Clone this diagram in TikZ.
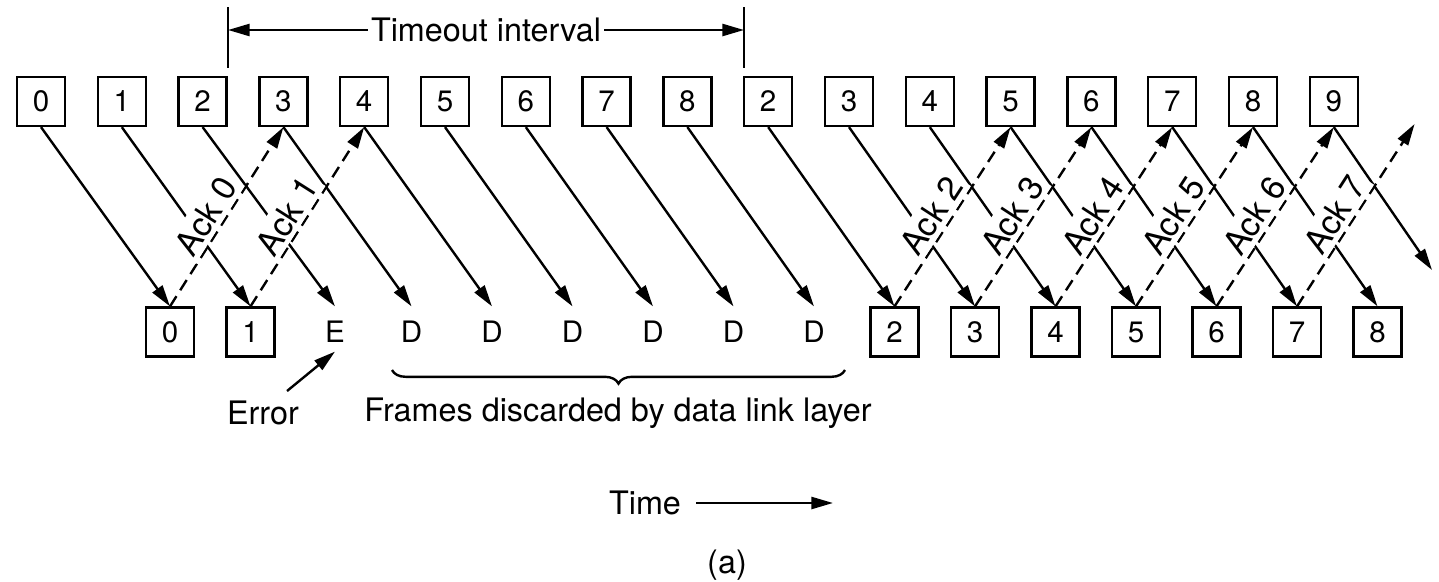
\documentclass[tikz,border=0pt]{standalone}
\usepackage{fontspec}
\setmainfont{TeX Gyre Heros}
\usepackage{tikz}
\usetikzlibrary{arrows.meta, decorations.pathreplacing}

\tikzset{
  seqbox/.style={draw, line width=0.85pt, minimum width=0.6cm, minimum height=0.61cm, inner sep=0pt, font=\fontsize{10.5}{12}\selectfont},
  slot/.style={seqbox, draw=none},
  arr/.style={line width=0.85pt, -{Triangle[length=2.7mm, width=1.5mm]}},
  ack/.style={arr, dash pattern=on 4.3pt off 2.5pt},
  acklabel/.style={sloped, above, pos=0.45, fill=white, inner sep=1.5pt, font=\fontsize{12}{14}\selectfont},
  txt/.style={font=\fontsize{11.5}{14}\selectfont}
}

\begin{document}
\begin{tikzpicture}[x=0.0125cm, y=-0.0125cm]
\useasboundingbox (0,0) rectangle (1439,581);

\foreach \lab [count=\i from 0] in {0,1,2,3,4,5,6,7,8,2,3,4,5,6,7,8,9}
  \node[seqbox] (t\i) at ({41+80.8*\i},101.5) {\lab};

\foreach \i/\lab in {0/0,1/1,9/2,10/3,11/4,12/5,13/6,14/7,15/8}
  \node[seqbox] (b\i) at ({170+80.5*\i},332) {\lab};
\node[slot] (b2) at (335,332) {E};
\foreach \i in {3,...,8}
  \node[slot] (b\i) at ({170+80.5*\i},332) {D};

\coordinate (lastf) at (1432,270);
\coordinate (lasta) at ({41+80.8*17},124);

\foreach \i in {0,...,15}
  \draw[arr] (t\i.south) -- (b\i.north);
\draw[arr] (t16.south) -- (lastf);

\foreach \i/\j/\n in {0/3/0, 1/4/1, 9/12/2, 10/13/3, 11/14/4, 12/15/5, 13/16/6}
  \draw[ack] (b\i.north) -- node[acklabel] {Ack \n} (t\j.south);
\draw[ack] (b14.north) -- node[acklabel] {Ack 7} (lasta);

\node[txt, inner sep=1pt] (tmo) at (486,30) {Timeout interval};
\coordinate (tmol) at (228,30);
\coordinate (tmor) at (744,30);
\draw[line width=0.85pt] (228,7) -- (228,68);
\draw[line width=0.85pt] (744,7) -- (744,68);
\draw[arr] (tmo.west) -- (tmol);
\draw[arr] (tmo.east) -- (tmor);

\draw[line width=0.85pt, decorate, decoration={brace, mirror, amplitude=0.17cm}] (392,370) -- (845,370);
\node[txt] (disc) at (618,413) {Frames discarded by data link layer};

\node[txt] (err) at (263,413) {Error};
\draw[arr] ([xshift=0.3cm]err.north) -- ([yshift=0.075cm]b2.south);

\node[txt] (time) at (645,503) {Time};
\coordinate (tend) at (833,503);
\draw[arr] ([xshift=0.07cm]time.east) -- (tend);

\node[txt] (cap) at (727,565) {(a)};
\end{tikzpicture}
\end{document}
